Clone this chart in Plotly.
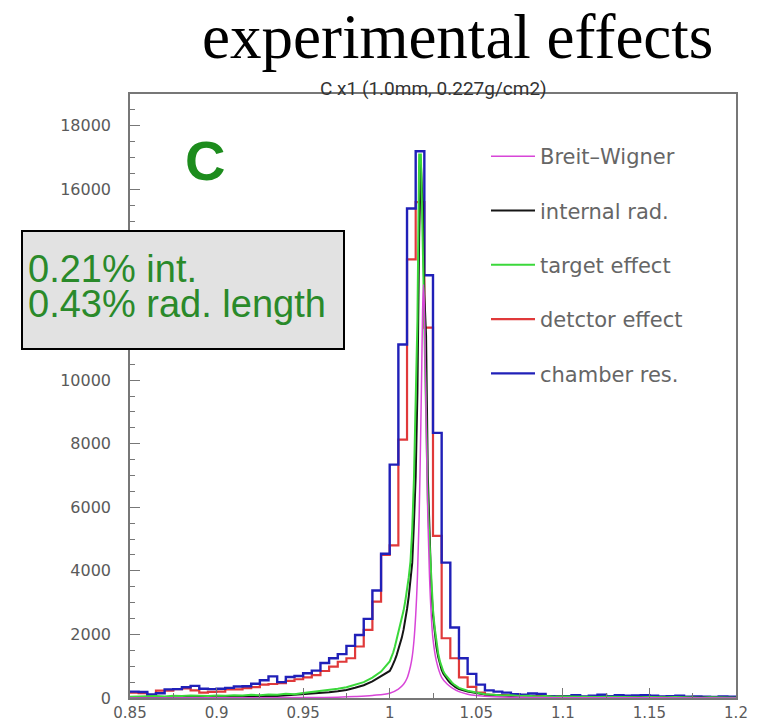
import numpy as np
import plotly.graph_objects as go

# ---------------- data ----------------
# coarse histograms: 70 bins of width 0.005 from 0.85 to 1.2
bin_edges = np.round(np.linspace(0.85, 1.2, 71), 4)

chamber_res = [200, 190, 110, 150, 270, 280, 340, 380, 290, 280,
               290, 320, 360, 370, 450, 560, 680, 500, 660, 690,
               780, 860, 1100, 1250, 1380, 1640, 1980, 2490, 3380, 4540,
               7340, 11120, 15400, 17200, 13300, 8340, 4260, 2220, 1250, 760,
               420, 240, 200, 170, 120, 100, 140, 130, 60, 50,
               60, 90, 50, 70, 100, 60, 90, 70, 80, 90,
               70, 50, 60, 70, 40, 50, 40, 30, 50, 40]

detector_effect = [170, 150, 60, 230, 230, 280, 300, 240, 170, 190,
                   200, 270, 270, 310, 340, 420, 440, 470, 540, 590,
                   650, 720, 850, 990, 1140, 1250, 1620, 2140, 3030, 4500,
                   4800, 8130, 13800, 15600, 11650, 5100, 1880, 1250, 650, 350,
                   170, 100, 80, 90, 40, 60, 50, 100, 40, 50,
                   30, 40, 30, 20, 40, 60, 30, 40, 30, 20,
                   30, 30, 20, 30, 20, 20, 30, 20, 20, 10]

# fine histograms (target effect, internal radiation) sampled on a fine grid
fine_x = np.round(np.concatenate([
    np.arange(0.850, 0.9999, 0.005),
    np.arange(1.000, 1.0405, 0.001),
    np.arange(1.045, 1.2001, 0.005)]), 4)

target_effect = [40, 50, 40, 60, 50, 70, 60, 80, 70, 60,
                 80, 70, 90, 80, 100, 90, 110, 100, 130, 120,
                 160, 190, 230, 260, 290, 340, 410, 500, 640, 830,
                 1150, 1280, 1430, 1620, 1830, 2050, 2250, 2480, 2750, 3050,
                 3400, 3800, 4300, 5300, 6900, 9400, 11850, 17100, 17100, 14500,
                 12000, 9000, 6200, 4870, 3600, 2770, 2200, 1750, 1400, 1150,
                 950, 830, 740, 670, 600, 540, 480, 430, 390, 350, 320,
                 230, 180, 120, 100, 80, 90, 60, 70, 50, 60,
                 40, 50, 40, 30, 40, 30, 40, 30, 20, 30,
                 20, 30, 20, 20, 30, 20, 20, 10, 20, 20, 10, 10]

internal_rad = [20, 30, 20, 30, 30, 40, 30, 40, 40, 30,
                50, 40, 50, 50, 60, 60, 70, 60, 80, 80,
                100, 120, 150, 180, 210, 250, 320, 400, 520, 680,
                850, 950, 1060, 1200, 1350, 1520, 1700, 1900, 2150, 2450,
                2800, 3200, 3700, 4250, 5500, 6970, 9600, 14500, 16800, 15500,
                12700, 11400, 7000, 4800, 3500, 2600, 2000, 1600, 1300, 1050,
                880, 760, 670, 600, 530, 470, 420, 380, 340, 310, 280,
                200, 150, 110, 90, 70, 70, 50, 60, 40, 50,
                30, 40, 30, 30, 30, 20, 30, 20, 20, 20,
                20, 20, 10, 20, 20, 10, 20, 10, 10, 10, 10, 10]

# Breit-Wigner curve
bw_x = [0.85, 0.90, 0.95, 0.97, 0.98, 0.99, 1.000, 1.005, 1.008, 1.010,
        1.012, 1.013, 1.014, 1.015, 1.016, 1.017, 1.018, 1.0185, 1.019, 1.0195,
        1.020, 1.0205, 1.021, 1.022, 1.023, 1.024, 1.025, 1.027, 1.030, 1.033,
        1.036, 1.040, 1.045, 1.050, 1.060, 1.080, 1.100, 1.150, 1.200]
bw_y = [2, 4, 12, 25, 45, 80, 150, 280, 430, 620,
        1000, 1300, 1800, 2600, 3800, 5700, 8700, 10400, 12200, 13000,
        12300, 10500, 8900, 5700, 3800, 2600, 1850, 1150, 650, 450,
        320, 200, 120, 80, 40, 18, 9, 4, 2]

x_tickvals = [0.85, 0.9, 0.95, 1.0, 1.05, 1.1, 1.15, 1.2]
x_ticktext = ["0.85", "0.9", "0.95", "1", "1.05", "1.1", "1.15", "1.2"]
y_tickvals = [0, 2000, 4000, 6000, 8000, 10000, 12000, 14000, 16000, 18000]
# 12000 and 14000 sit behind the grey text box in the reference
y_ticktext = ["0", "2000", "4000", "6000", "8000", "10000", "", "", "16000", "18000"]

# ---------------- figure ----------------
def step(values):
    xs = list(bin_edges)
    ys = list(values) + [values[-1]]
    return xs, ys

fig = go.Figure()

xs, ys = step(detector_effect)
fig.add_trace(go.Scatter(x=xs, y=ys, mode="lines", line_shape="hv",
                         line=dict(color="#e0393a", width=2.2),
                         name="detctor effect", legendgroup="d", legendrank=4))
xs, ys = step(chamber_res)
fig.add_trace(go.Scatter(x=xs, y=ys, mode="lines", line_shape="hv",
                         line=dict(color="#2020b8", width=2.4),
                         name="chamber res.", legendgroup="c", legendrank=5))
fig.add_trace(go.Scatter(x=fine_x, y=internal_rad, mode="lines",
                         line=dict(color="#151515", width=2),
                         name="internal rad.", legendgroup="i", legendrank=2))
fig.add_trace(go.Scatter(x=fine_x, y=target_effect, mode="lines",
                         line=dict(color="#3bd83b", width=2),
                         name="target effect", legendgroup="t", legendrank=3))
fig.add_trace(go.Scatter(x=bw_x, y=bw_y, mode="lines", line_shape="spline",
                         line=dict(color="#d845d8", width=1.5),
                         name="Breit\u2013Wigner", legendgroup="b", legendrank=1))

L, R, T, B = 130, 736, 94, 698
W, H = R - L, B - T
def px_x(p):
    return (p - L) / W
def px_y(p):
    return (B - p) / H

fig.update_xaxes(range=[0.85, 1.2], tickvals=x_tickvals, ticktext=x_ticktext,
                 ticks="inside", ticklen=10, tickcolor="#777777", tickwidth=1,
                 minor=dict(ticks="inside", dtick=0.025, tick0=0.85, ticklen=5,
                            tickcolor="#777777"),
                 showline=True, linecolor="#777777", linewidth=1.5, mirror=True,
                 showgrid=False, zeroline=False,
                 tickfont=dict(family="DejaVu Sans", size=15, color="#5a5a5a"),
                 automargin=False)
fig.update_yaxes(range=[0, 19000], tickvals=y_tickvals, ticktext=y_ticktext,
                 ticks="inside", ticklen=10, tickcolor="#777777", tickwidth=1,
                 minor=dict(ticks="inside", dtick=500, tick0=0, ticklen=5,
                            tickcolor="#777777"),
                 showline=True, linecolor="#777777", linewidth=1.5, mirror=True,
                 showgrid=False, zeroline=False,
                 tickfont=dict(family="DejaVu Sans", size=16, color="#5a5a5a"),
                 ticklabelstandoff=14, automargin=False)

annotations = [
    dict(x=px_x(457), y=px_y(37), xref="paper", yref="paper", showarrow=False,
         xanchor="center", yanchor="middle", text="experimental effects",
         font=dict(family="Liberation Serif", size=63, color="black")),
    dict(x=px_x(433), y=px_y(88), xref="paper", yref="paper", showarrow=False,
         xanchor="center", yanchor="middle", text="C x1 (1.0mm, 0.227g/cm2)",
         font=dict(family="Roboto", size=19, color="#333333")),
    dict(x=px_x(205), y=px_y(161), xref="paper", yref="paper", showarrow=False,
         xanchor="center", yanchor="middle", text="<b>C</b>",
         font=dict(family="Liberation Sans", size=56, color="#1d8c1d")),
    dict(x=px_x(21), y=px_y(230), xref="paper", yref="paper", showarrow=False,
         xanchor="left", yanchor="top", text=" ", width=320, height=116,
         bgcolor="#e2e2e2", bordercolor="black", borderwidth=2, borderpad=0),
    dict(x=px_x(26), y=px_y(269), xref="paper", yref="paper", showarrow=False,
         xanchor="left", yanchor="middle", text="0.21% int.",
         font=dict(family="Liberation Sans", size=38, color="#2a8a2a")),
    dict(x=px_x(26), y=px_y(304), xref="paper", yref="paper", showarrow=False,
         xanchor="left", yanchor="middle", text="0.43% rad. length",
         font=dict(family="Liberation Sans", size=38, color="#2a8a2a")),
]

fig.update_layout(
    width=760, height=721,
    margin=dict(l=L, r=760 - R, t=T, b=721 - B),
    paper_bgcolor="white", plot_bgcolor="white",
    annotations=annotations,
    showlegend=True,
    legend=dict(x=px_x(486), y=px_y(136), xanchor="left", yanchor="top",
                bgcolor="rgba(0,0,0,0)", tracegroupgap=24, itemwidth=44,
                font=dict(family="DejaVu Sans", size=21, color="#666666")),
)

fig.write_html("out.html")
